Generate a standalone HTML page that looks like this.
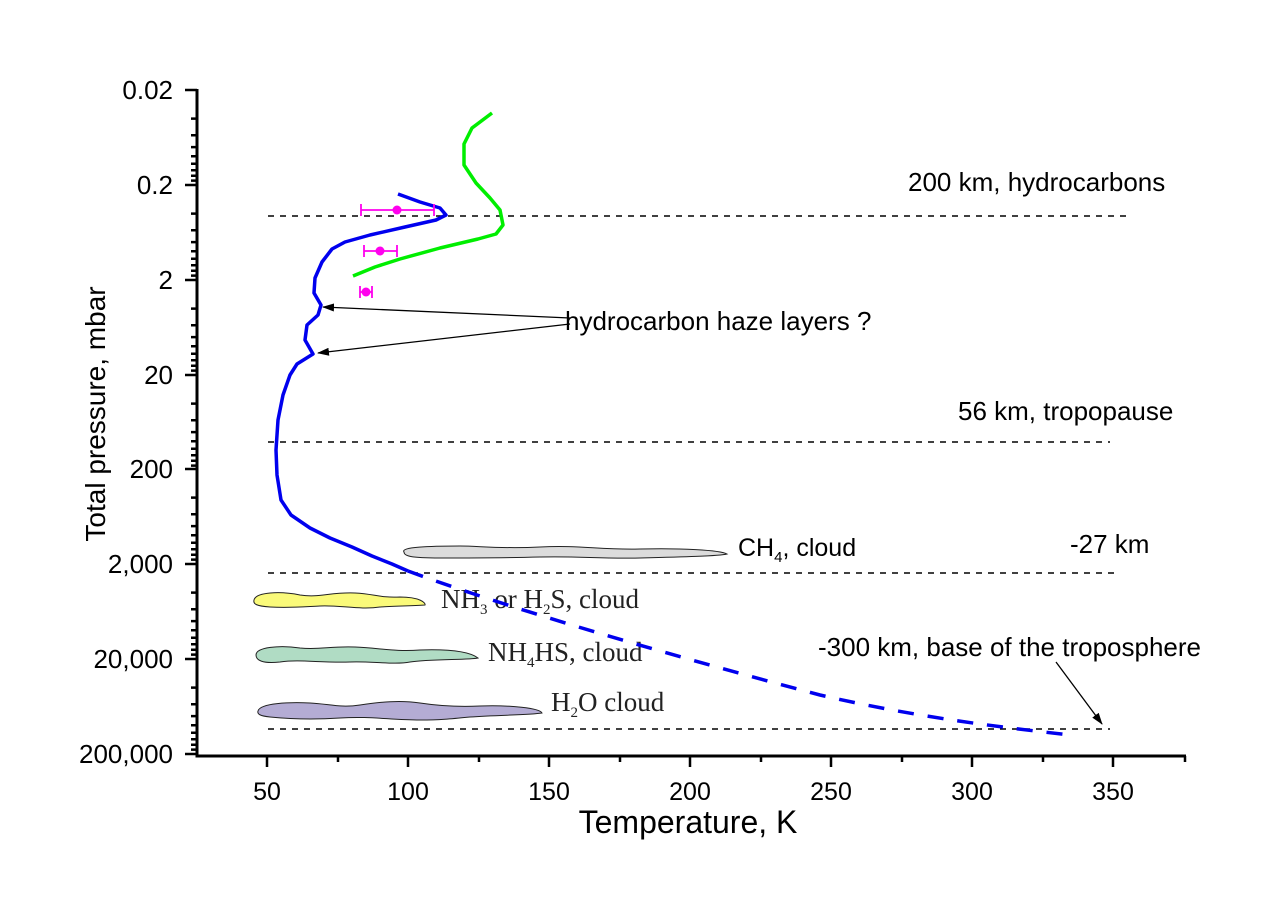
<!DOCTYPE html>
<html><head><meta charset="utf-8"><style>body{margin:0;background:#fff}svg{display:block}</style></head><body>
<svg width="1280" height="906" viewBox="0 0 1280 906" xmlns="http://www.w3.org/2000/svg" xmlns:xlink="http://www.w3.org/1999/xlink">
<defs>
<g id="dec"><path d="M185 0H197M191 28.6H197M191 45.3H197M191 57.1H197M191 66.3H197M191 73.8H197M191 80.2H197M191 85.7H197M191 90.6H197" stroke="#000" stroke-width="2.5"/></g>
<marker id="ah" markerWidth="12" markerHeight="8" refX="11" refY="4" orient="auto" markerUnits="userSpaceOnUse"><path d="M0 0L12 4L0 8z" fill="#000"/></marker>
</defs>
<path d="M197 89V756H1186" fill="none" stroke="#000" stroke-width="3"/>
<use xlink:href="#dec" y="90"/><use xlink:href="#dec" y="185"/><use xlink:href="#dec" y="280"/><use xlink:href="#dec" y="375"/><use xlink:href="#dec" y="469"/><use xlink:href="#dec" y="564"/><use xlink:href="#dec" y="659"/>
<path d="M185 754H197" stroke="#000" stroke-width="2.5"/>
<path d="M267 756V767M408 756V767M549 756V767M690 756V767M831 756V767M972 756V767M1113 756V767M338 756V762M479 756V762M620 756V762M761 756V762M902 756V762M1043 756V762M1185 756V762" stroke="#000" stroke-width="2.5"/>
<g font-family="Liberation Sans, sans-serif" font-size="26" fill="#000" text-anchor="end">
<text x="173" y="99">0.02</text><text x="173" y="194">0.2</text><text x="173" y="289">2</text><text x="173" y="384">20</text><text x="173" y="478">200</text><text x="173" y="573">2,000</text><text x="173" y="668">20,000</text><text x="173" y="763">200,000</text>
</g>
<g font-family="Liberation Sans, sans-serif" font-size="25" fill="#000" text-anchor="middle">
<text x="267" y="800">50</text><text x="408" y="800">100</text><text x="549" y="800">150</text><text x="690" y="800">200</text><text x="831" y="800">250</text><text x="972" y="800">300</text><text x="1113" y="800">350</text>
</g>
<text x="688" y="833" font-family="Liberation Sans, sans-serif" font-size="32" text-anchor="middle">Temperature, K</text>
<text transform="translate(105,414) rotate(-90)" font-family="Liberation Sans, sans-serif" font-size="28" text-anchor="middle">Total pressure, mbar</text>
<g stroke="#000" stroke-width="1.5" stroke-dasharray="6,6">
<path d="M268 216H1130M268 442H1110M268 573H1120M268 729H1110"/>
</g>
<g stroke="#222" stroke-width="1">
<path d="M404 552C400 547 430 546 460 546C480 546 500 549 540 547C580 545 600 550 640 549C680 548 720 550 727 554C720 556 680 557 640 558C600 559 580 556 540 557C500 558 480 558 440 558C410 558 404 556 404 552Z" fill="#dcdcdc"/>
<path d="M254 600C256 592 280 591 300 595C320 598 330 592 355 593C375 594 380 598 400 597C420 597 426 603 425 605C410 606 390 606 380 607C360 610 340 605 320 606C300 607 290 608 270 607C256 606 253 604 254 600Z" fill="#fafa7a"/>
<path d="M256 655C256 647 280 645 300 648C320 650 330 646 355 647C380 648 395 652 420 650C450 649 470 652 478 658C470 660 430 659 410 662C395 665 370 661 350 662C320 663 300 659 280 662C262 664 256 660 256 655Z" fill="#b0dcc4"/>
<path d="M258 711C260 703 290 702 310 703C330 704 340 708 360 705C380 702 400 700 420 703C440 706 460 707 480 706C510 705 540 708 542 713C530 715 500 715 470 717C450 719 440 720 420 720C390 720 370 716 340 718C310 720 290 719 270 717C260 716 257 714 258 711Z" fill="#b4acd4"/>
</g>
<g font-family="Liberation Serif, serif" font-size="27" fill="#222">
<text x="441" y="608">NH<tspan font-size="15" dy="6">3</tspan><tspan dy="-6"> or H</tspan><tspan font-size="15" dy="6">2</tspan><tspan dy="-6">S, cloud</tspan></text>
<text x="488" y="661">NH<tspan font-size="15" dy="6">4</tspan><tspan dy="-6">HS, cloud</tspan></text>
<text x="551" y="711">H<tspan font-size="15" dy="6">2</tspan><tspan dy="-6">O cloud</tspan></text>
</g>
<text x="738" y="556" font-family="Liberation Sans, sans-serif" font-size="25">CH<tspan font-size="15" dy="6">4</tspan><tspan dy="-6">, cloud</tspan></text>
<g font-family="Liberation Sans, sans-serif" font-size="26" fill="#000">
<text x="908" y="191">200 km, hydrocarbons</text>
<text x="958" y="420">56 km, tropopause</text>
<text x="1070" y="553">-27 km</text>
<text x="818" y="656">-300 km, base of the troposphere</text>
<text x="565" y="330">hydrocarbon haze layers ?</text>
</g>
<g stroke="#000" stroke-width="1.3" fill="none">
<path d="M570 318L323 307" marker-end="url(#ah)"/>
<path d="M570 324L318 353" marker-end="url(#ah)"/>
<path d="M1056 662L1102 724" marker-end="url(#ah)"/>
</g>
<path d="M398 194L420 202L440 208L446 215L436 220L405 227L370 235L345 242L332 249L322 262L315 278L314 293L321 305L318 315L307 325L305 340L313 354L297 364L290 375L283 395L278 420L276 450L277 475L281 500L291 515L310 528L330 538L352 547L372 556L392 564L408 571" fill="none" stroke="#0000ee" stroke-width="3.5" stroke-linejoin="round"/>
<path d="M408 571C500 605 650 650 820 695C920 718 1000 727 1070 735" fill="none" stroke="#0000ee" stroke-width="3.5" stroke-dasharray="16,14"/>
<path d="M492 113L472 128L464 144L464 165L476 183L490 198L500 210L503 225L496 234L478 239L440 248L400 259L375 267L353 276" fill="none" stroke="#00ee00" stroke-width="3.5" stroke-linejoin="round"/>
<g stroke="#ff00ee" stroke-width="1.8" fill="#ff00ee">
<path d="M361 210H434M361 204V216M434 204V216M364 251H397M364 245V257M397 245V257M360 292H372M360 286V298M372 286V298"/>
<circle cx="397" cy="210" r="4.5" stroke="none"/><circle cx="380" cy="251" r="4.5" stroke="none"/><circle cx="366" cy="292" r="4.5" stroke="none"/>
</g>
</svg>
</body></html>
